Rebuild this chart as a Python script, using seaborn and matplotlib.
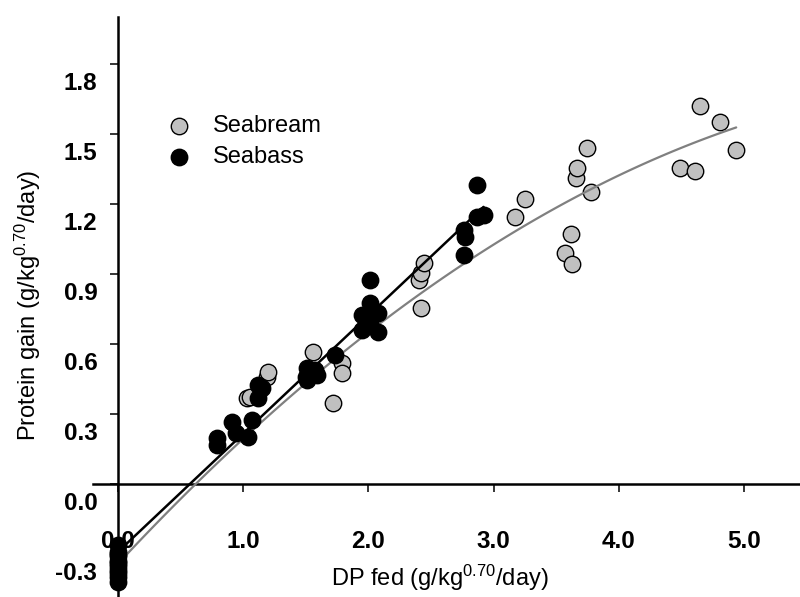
import numpy as np
import pandas as pd
import matplotlib
matplotlib.use("Agg")
import matplotlib.pyplot as plt
import matplotlib.transforms as mtransforms
import seaborn as sns

# Digestible protein fed (x) and protein gain (y), g/kg^0.70/day
seabream_dp = [0.0, 0.0, 0.0, 1.03, 1.05, 1.19, 1.20, 1.56, 1.72, 1.79, 1.79,
               2.40, 2.42, 2.44, 2.42, 3.17, 3.25, 3.57, 3.62, 3.63, 3.66,
               3.67, 3.75, 3.78, 4.49, 4.61, 4.65, 4.81, 4.94]
seabream_gain = [-0.30, -0.34, -0.38, 0.367, 0.374, 0.46, 0.481, 0.565, 0.346,
                 0.517, 0.474, 0.874, 0.903, 0.946, 0.753, 1.143, 1.222, 0.991,
                 1.072, 0.943, 1.31, 1.353, 1.44, 1.253, 1.353, 1.342, 1.62,
                 1.552, 1.432]

seabass_dp = [0.0, 0.0, 0.0, 0.0, 0.0, 0.0, 0.0, 0.0,
              0.79, 0.79, 0.91, 0.94, 1.04, 1.07, 1.12, 1.12, 1.15,
              1.50, 1.51, 1.57, 1.59, 1.51, 1.73,
              1.95, 1.95, 2.01, 2.01, 2.01, 2.08, 2.08,
              2.76, 2.76, 2.77, 2.87, 2.92, 2.87]
seabass_gain = [-0.26, -0.29, -0.31, -0.33, -0.35, -0.37, -0.40, -0.42,
                0.196, 0.165, 0.267, 0.22, 0.203, 0.274, 0.367, 0.424, 0.41,
                0.46, 0.496, 0.487, 0.467, 0.446, 0.553,
                0.724, 0.66, 0.874, 0.774, 0.689, 0.731, 0.653,
                0.98, 1.089, 1.06, 1.146, 1.153, 1.282]

# Fitted response curves: polynomial coefficients (constant, linear, quadratic)
seabream_fit = [-0.341, 0.575, -0.0398]
seabass_fit = [-0.29, 0.506]
seabream_fit_range = [0.0, 4.94]
seabass_fit_range = [0.0, 2.92]

x_ticks = [0.0, 1.0, 2.0, 3.0, 4.0, 5.0]
y_ticks = [-0.3, 0.0, 0.3, 0.6, 0.9, 1.2, 1.5, 1.8]

sns.set_style("ticks")
plt.rcParams["font.family"] = ["Liberation Sans", "DejaVu Sans"]
plt.rcParams["mathtext.fontset"] = "custom"
plt.rcParams["mathtext.rm"] = "Liberation Sans"
plt.rcParams["mathtext.it"] = "Liberation Sans:italic"
plt.rcParams["mathtext.bf"] = "Liberation Sans:bold"
for key in ("text.color", "axes.labelcolor", "xtick.color", "ytick.color",
            "axes.edgecolor"):
    plt.rcParams[key] = "black"

W, H = 800, 597
fig = plt.figure(figsize=(W / 100, H / 100), dpi=100)
ax = fig.add_axes([93.3 / W, 0.0, (W - 93.3) / W, 579.6 / H])
ax.set_xlim(-0.2, 5.45)
ax.set_ylim(-0.485, 2.0)

gray_fill = "#c0c0c0"


def fit_curve(coefs, lo, hi):
    xs = np.linspace(lo, hi, 100)
    ys = sum(c * xs ** i for i, c in enumerate(coefs))
    return xs, ys


bream = pd.DataFrame({"dp": seabream_dp, "gain": seabream_gain})
bass = pd.DataFrame({"dp": seabass_dp, "gain": seabass_gain})

sns.scatterplot(data=bream, x="dp", y="gain", ax=ax, s=140, color=gray_fill,
                edgecolor="black", linewidth=1.0, zorder=2, label="Seabream",
                clip_on=False)

xs, ys = fit_curve(seabream_fit, *seabream_fit_range)
sns.lineplot(x=xs, y=ys, ax=ax, color="#808080", linewidth=1.6, sort=False,
             estimator=None, zorder=2.6)
xs, ys = fit_curve(seabass_fit, *seabass_fit_range)
sns.lineplot(x=xs, y=ys, ax=ax, color="black", linewidth=1.8, sort=False,
             estimator=None, zorder=2.7)

sns.scatterplot(data=bass, x="dp", y="gain", ax=ax, s=140, color="black",
                edgecolor="black", linewidth=1.0, zorder=3, label="Seabass",
                clip_on=False)

# Axes crossing at the origin
for side in ("top", "right"):
    ax.spines[side].set_visible(False)
ax.spines["left"].set_position(("data", 0.0))
ax.spines["bottom"].set_position(("data", 0.0))
for side in ("left", "bottom"):
    ax.spines[side].set_linewidth(1.8)
    ax.spines[side].set_color("black")
    ax.spines[side].set_zorder(2.5)

ax.set_xticks(x_ticks)
ax.set_yticks(y_ticks)
ax.set_xticklabels([f"{v:.1f}" for v in x_ticks])
ax.set_yticklabels([f"{v:.1f}" for v in y_ticks])
ax.tick_params(axis="both", direction="out", length=5.8, width=1.1,
               colors="black", labelsize=17.5)
ax.tick_params(axis="x", pad=27.5)
ax.tick_params(axis="y", pad=9.3)
for lab in ax.get_xticklabels() + ax.get_yticklabels():
    lab.set_fontweight("bold")
shift = mtransforms.ScaledTranslation(0, -0.17, fig.dpi_scale_trans)
for lab in ax.get_yticklabels():
    lab.set_transform(lab.get_transform() + shift)

ax.set_xlabel("DP fed (g/kg$^{0.70}$/day)", fontsize=17)
ax.xaxis.label.set_va("center")
ax.xaxis.set_label_coords(0.4906, 0.033)
ax.set_ylabel("Protein gain (g/kg$^{0.70}$/day)", fontsize=17)
ax.yaxis.label.set_va("center")
ax.yaxis.set_label_coords(-0.0924, 0.504)

ax.legend(loc="upper left", bbox_to_anchor=(167 / W, 1 - 115 / H),
          bbox_transform=fig.transFigure, frameon=False, fontsize=17,
          borderpad=0, borderaxespad=0, handlelength=1.0, handletextpad=0.93,
          labelspacing=0.38, markerscale=1.0)

fig.savefig("out.png", dpi=100)
